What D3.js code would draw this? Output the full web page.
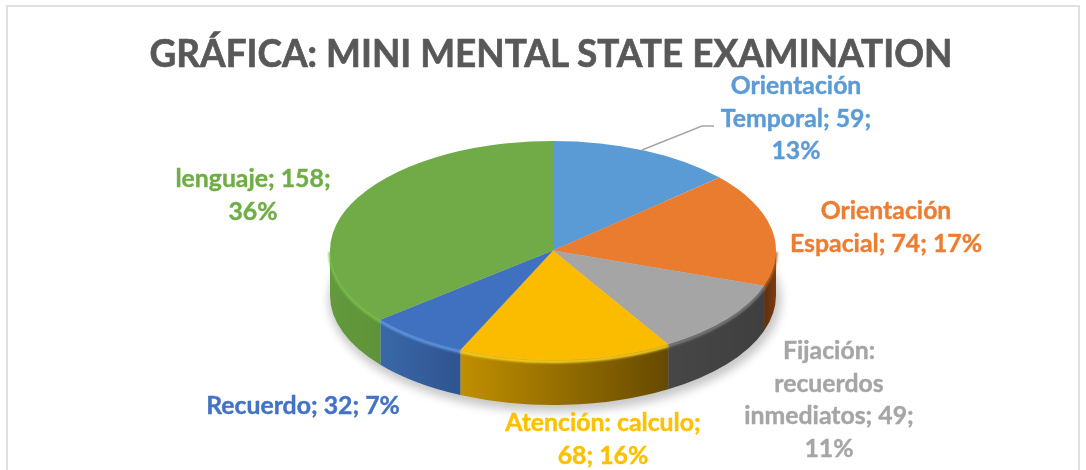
<!DOCTYPE html>
<html>
<head>
<meta charset="utf-8">
<script src="https://cdn.jsdelivr.net/npm/d3@7"></script>
<style>
  html, body { margin: 0; padding: 0; background: #fff; }
  svg { display: block; }
  text { font-family: Lato, "Open Sans", sans-serif; font-weight: 700; }
</style>
</head>
<body>
<svg id="chart"></svg>
<script>
const categories = ["Orientación Temporal", "Orientación Espacial", "Fijación: recuerdos inmediatos", "Atención: calculo", "Recuerdo", "lenguaje"];
const values = [59, 74, 49, 68, 32, 158];
const percents = [13, 17, 11, 16, 7, 36];
const title = "GRÁFICA: MINI MENTAL STATE EXAMINATION";

// how each label wraps, and where its block sits
const labelLines = [
  ["Orientación", "Temporal; 59;", "13%"],
  ["Orientación", "Espacial; 74; 17%"],
  ["Fijación:", "recuerdos", "inmediatos; 49;", "11%"],
  ["Atención: calculo;", "68; 16%"],
  ["Recuerdo; 32; 7%"],
  ["lenguaje; 158;", "36%"]
];
const labelX = [796, 886, 829, 603, 303, 253];
const labelY = [94, 219, 359, 431, 414, 187];

const colors = ["#5b9bd5", "#ea7c30", "#a5a5a5", "#fbbc00", "#4070c0", "#70ab47"];
const textColors = ["#5b9bd5", "#ed7d31", "#a5a5a5", "#ffc000", "#4472c4", "#70ad47"];
const rimColors = ["#5b9bd5", "#b85f1c", "#7d7d7d", "#ffd820", "#649ae6", "#78c24c"];
const wallColors = [
  ["#5b9bd5", "#5b9bd5"],
  ["#5e2f0e", "#7a3c12"],
  ["#474747", "#3f3f3f"],
  ["#c08f00", "#664a00"],
  ["#3a68a8", "#2f5490"],
  ["#639a3d", "#5f9339"]
];

const width = 1086, height = 470;
const cx = 553, cy = 250.5, rx = 223, ry = 109.5, depth = 45;

const svg = d3.select("#chart").attr("width", width).attr("height", height);
const defs = svg.append("defs");

defs.append("filter").attr("id", "blur").attr("x", "-20%").attr("y", "-20%").attr("width", "140%").attr("height", "140%")
  .append("feGaussianBlur").attr("stdDeviation", 5);
defs.append("filter").attr("id", "soft").attr("x", "-5%").attr("y", "-5%").attr("width", "110%").attr("height", "110%")
  .append("feGaussianBlur").attr("stdDeviation", 0.9);
defs.append("filter").attr("id", "text-soft").attr("x", "-5%").attr("y", "-20%").attr("width", "110%").attr("height", "140%")
  .append("feGaussianBlur").attr("stdDeviation", 0.4);

// chart frame, runs off the bottom of the picture
svg.append("rect")
  .attr("x", 7).attr("y", 6).attr("width", 1072).attr("height", 480)
  .attr("fill", "#fff").attr("stroke", "#e0e0e0").attr("stroke-width", 2);

svg.append("text")
  .attr("x", 551).attr("y", 67)
  .attr("text-anchor", "middle")
  .attr("font-size", 39)
  .attr("textLength", 803)
  .attr("lengthAdjust", "spacingAndGlyphs")
  .attr("fill", "#595959")
  .attr("stroke", "#595959")
  .attr("stroke-width", 0.7)
  .attr("filter", "url(#text-soft)")
  .text(title);

const pie = d3.pie().sort(null)(values);

// angle (clockwise from 12 o'clock) to a spot on the tilted disc
const px = a => cx + rx * Math.sin(a);
const py = a => cy - ry * Math.cos(a);

// shadow under the disc
svg.append("ellipse")
  .attr("cx", cx + 2).attr("cy", cy + depth + 4)
  .attr("rx", rx + 3).attr("ry", ry + 3)
  .attr("fill", "#000").attr("opacity", 0.22)
  .attr("filter", "url(#blur)");

// side walls, only the part of each slice facing the viewer
const frontStart = Math.PI / 2, frontEnd = 3 * Math.PI / 2;
const front = pie
  .map((d, i) => ({
    i,
    a0: Math.max(d.startAngle, frontStart),
    a1: Math.min(d.endAngle, frontEnd)
  }))
  .filter(d => d.a1 > d.a0);

front.forEach(d => {
  const grad = defs.append("linearGradient")
    .attr("id", "wall" + d.i)
    .attr("gradientUnits", "userSpaceOnUse")
    .attr("x1", px(d.a1)).attr("x2", px(d.a0))
    .attr("y1", 0).attr("y2", 0);
  grad.append("stop").attr("offset", 0).attr("stop-color", wallColors[d.i][0]);
  grad.append("stop").attr("offset", 1).attr("stop-color", wallColors[d.i][1]);
});

const wallPath = d => `M${px(d.a0)},${py(d.a0)}`
  + `A${rx},${ry} 0 0 1 ${px(d.a1)},${py(d.a1)}`
  + `L${px(d.a1)},${py(d.a1) + depth}`
  + `A${rx},${ry} 0 0 0 ${px(d.a0)},${py(d.a0) + depth}Z`;

svg.append("g").selectAll("path")
  .data(front)
  .enter().append("path")
  .attr("d", wallPath)
  .attr("fill", d => `url(#wall${d.i})`);

// lit bevel where the wall meets the top
svg.append("g").attr("filter", "url(#soft)").selectAll("path")
  .data(front)
  .enter().append("path")
  .attr("d", d => `M${px(d.a0)},${py(d.a0) + 1.5}A${rx},${ry} 0 0 1 ${px(d.a1)},${py(d.a1) + 1.5}`)
  .attr("fill", "none")
  .attr("stroke", d => rimColors[d.i])
  .attr("stroke-width", 3);

// top face: unit-radius arcs squashed into an ellipse
const arc = d3.arc().innerRadius(0).outerRadius(rx);
svg.append("g")
  .attr("transform", `translate(${cx},${cy}) scale(1,${ry / rx})`)
  .selectAll("path")
  .data(pie)
  .enter().append("path")
  .attr("d", arc)
  .attr("fill", (d, i) => colors[i]);

// leader line for the first label
svg.append("polyline")
  .attr("points", [[642, 150], [702, 126], [714, 126]].join(" "))
  .attr("fill", "none")
  .attr("stroke", "#a6a6a6")
  .attr("stroke-width", 1.5);

const lineStep = 32.5;
const labels = svg.append("g")
  .attr("font-size", 24.8)
  .attr("text-anchor", "middle")
  .attr("filter", "url(#text-soft)");

categories.forEach((c, i) => {
  labels.append("text")
    .attr("data-category", c)
    .attr("fill", textColors[i])
    .attr("stroke", textColors[i])
    .attr("stroke-width", 0.4)
    .selectAll("tspan")
    .data(labelLines[i])
    .enter().append("tspan")
    .attr("x", labelX[i])
    .attr("y", (l, j) => labelY[i] + j * lineStep)
    .text(l => l);
});
</script>
</body>
</html>
